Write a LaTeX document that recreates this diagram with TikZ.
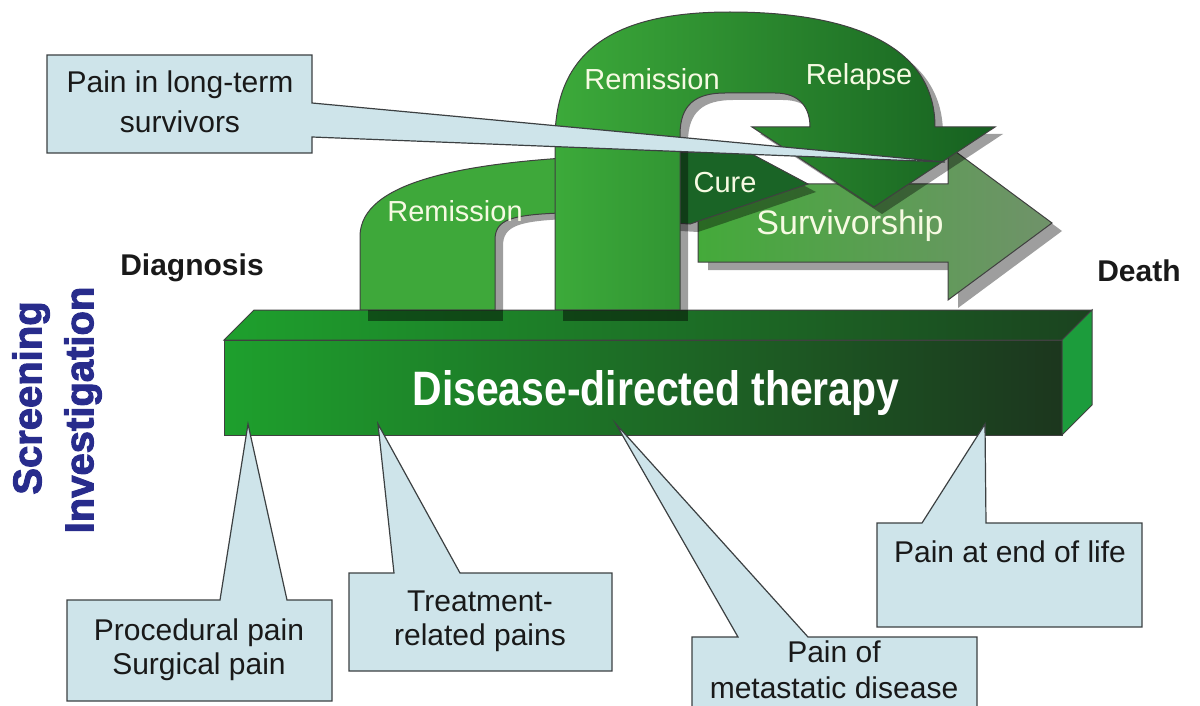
\documentclass[tikz,border=0pt]{standalone}
\usepackage{fontspec}
\setmainfont{Liberation Sans}
\newfontfamily\heavysans[BoldFeatures={FakeBold=2.5}]{Liberation Sans}
\usepackage{tikz}
\definecolor{calloutfill}{RGB}{206,228,234}
\definecolor{calloutline}{RGB}{60,64,66}
\definecolor{navyblue}{RGB}{40,44,140}
\definecolor{archlight}{RGB}{60,170,58}
\definecolor{archdark}{RGB}{22,96,32}
\definecolor{smallarch}{RGB}{62,168,58}
\definecolor{curegreen}{RGB}{26,100,38}
\definecolor{survlight}{RGB}{68,170,58}
\definecolor{survgray}{RGB}{112,146,106}
\definecolor{barlight}{RGB}{30,160,45}
\definecolor{barmid}{RGB}{22,118,36}
\definecolor{bardark}{RGB}{28,54,30}
\definecolor{barside}{RGB}{28,156,60}
\definecolor{labelwhite}{RGB}{246,250,226}

\begin{document}
\begin{tikzpicture}[x=0.5pt,y=-0.5pt,
  callout/.style={fill=calloutfill,draw=calloutline,line width=0.6pt,line join=miter},
  edge/.style={draw=black!75,line width=0.5pt},
  dropshadow/.style={fill=black,opacity=0.38},
  arrowlabel/.style={text=labelwhite,font=\fontsize{14.5}{16}\selectfont,inner sep=0pt},
  calloutlabel/.style={align=center,font=\fontsize{15}{17}\selectfont,inner sep=0pt,text=black!90},
  milestone/.style={font=\fontsize{15}{17}\selectfont\bfseries,inner sep=0pt,text=black!90},
  sidelabel/.style={font=\heavysans\fontsize{20}{22}\selectfont\bfseries,inner sep=0pt,text=navyblue,rotate=90}]
  \useasboundingbox (0,0) rectangle (1200,706);

  % survivorship arrow
  \fill[dropshadow] (708,192) -- (958,192) -- (958,154) -- (1062,231) -- (958,308) -- (958,270) -- (708,270) -- cycle;
  \path[edge,left color=survlight,right color=survgray] (698,184) -- (948,184) -- (948,146) -- (1052,223) -- (948,300) -- (948,262) -- (698,262) -- cycle;

  % first remission arch, running on into cure
  \fill[dropshadow] (368,316) -- (368,241) .. controls (370,191) and (458,166) .. (638,161) -- (638,221) -- (568,219) .. controls (518,221) and (503,226) .. (503,246) -- (503,316) -- cycle;
  \path[edge,fill=smallarch] (360,310) -- (360,235) .. controls (362,185) and (450,160) .. (630,155) -- (630,215) -- (560,213) .. controls (510,215) and (495,220) .. (495,240) -- (495,310) -- cycle;
  \fill[dropshadow] (628,161) -- (756,160) -- (816,192) -- (698,232) -- (628,228) -- cycle;
  \path[edge,fill=curegreen] (620,153) -- (748,152) -- (808,184) -- (690,224) -- (620,220) -- cycle;

  % second remission arch turning into relapse
  \fill[dropshadow] (563,316) -- (563,147) .. controls (563,47) and (638,19) .. (738,19) .. controls (848,19) and (943,47) .. (943,134) -- (1003,134) -- (882,214) -- (760,134) -- (818,134) .. controls (818,115) and (808,100) .. (783,100) -- (733,100) .. controls (703,100) and (688,112) .. (688,142) -- (688,316) -- cycle;
  \path[edge,left color=archlight,right color=archdark] (555,310) -- (555,140) .. controls (555,40) and (630,12) .. (730,12) .. controls (840,12) and (935,40) .. (935,127) -- (995,127) -- (874,207) -- (752,127) -- (810,127) .. controls (810,108) and (800,93) .. (775,93) -- (725,93) .. controls (695,93) and (680,105) .. (680,135) -- (680,310) -- cycle;

  % therapy bar
  \path[edge,left color=barlight,right color=bardark!80!barmid] (224,340) -- (254,310) -- (1092,310) -- (1062,340) -- cycle;
  \fill[black,opacity=0.45] (368,310) rectangle (503,321);
  \fill[black,opacity=0.45] (563,310) rectangle (688,321);
  \path[edge,left color=barlight,middle color=barmid,right color=bardark] (224,340) rectangle (1062,435);
  \path[edge,fill=barside] (1062,340) -- (1092,310) -- (1092,405) -- (1062,435) -- cycle;
  \node[font=\fontsize{23}{25}\selectfont\bfseries,text=white,xscale=0.89,yscale=1.05,inner sep=0pt] (therapy) at (656,393) {Disease-directed therapy};

  % callouts below the bar
  \coordinate (tipProc) at (248,424);
  \coordinate (tipTreat) at (378,424);
  \coordinate (tipMeta) at (616,424);
  \coordinate (tipEnd) at (985,424);
  \path[callout] (67,600) -- (220,600) -- (tipProc) -- (287,600) -- (332,600) -- (332,701) -- (67,701) -- cycle;
  \path[callout] (349,573) -- (394,573) -- (tipTreat) -- (460,573) -- (612,573) -- (612,671) -- (349,671) -- cycle;
  \path[callout] (692,637) -- (738,637) -- (tipMeta) -- (808,637) -- (977,637) -- (977,712) -- (692,712) -- cycle;
  \path[callout] (877,523) -- (922,523) -- (tipEnd) -- (986,523) -- (1142,523) -- (1142,627) -- (877,627) -- cycle;
  \node[calloutlabel] (procedural) at (199,650) {Procedural pain\\Surgical pain};
  \node[calloutlabel] (treatment) at (480,621) {Treatment-\\related pains};
  \node[calloutlabel,font=\fontsize{15}{18}\selectfont] (metastatic) at (834,670) {Pain of\\metastatic disease};
  \node[calloutlabel] (endoflife) at (1010,552) {Pain at end of life};

  % callout for survivors, over the arrows
  \coordinate (tipSurv) at (945,162);
  \path[callout] (47,55) -- (312,55) -- (312,103) -- (tipSurv) -- (312,137) -- (312,153) -- (47,153) -- cycle;
  \node[calloutlabel,font=\fontsize{15}{20}\selectfont] (longterm) at (180,102) {Pain in long-term\\survivors};

  % arrow labels
  \node[arrowlabel] (remissionA) at (455,211) {Remission};
  \node[arrowlabel] (remissionB) at (652,79) {Remission};
  \node[arrowlabel] (relapse) at (859,77) {Relapse};
  \node[arrowlabel] (cure) at (725,183) {Cure};
  \node[arrowlabel,font=\fontsize{17}{19}\selectfont] (survivorship) at (850,226) {Survivorship};

  % milestones
  \node[milestone] (diagnosis) at (192,268) {Diagnosis};
  \node[milestone] (death) at (1139,271) {Death};
  \node[sidelabel] (screening) at (31,398) {Screening};
  \node[sidelabel] (investigation) at (83,410) {Investigation};
\end{tikzpicture}
\end{document}
